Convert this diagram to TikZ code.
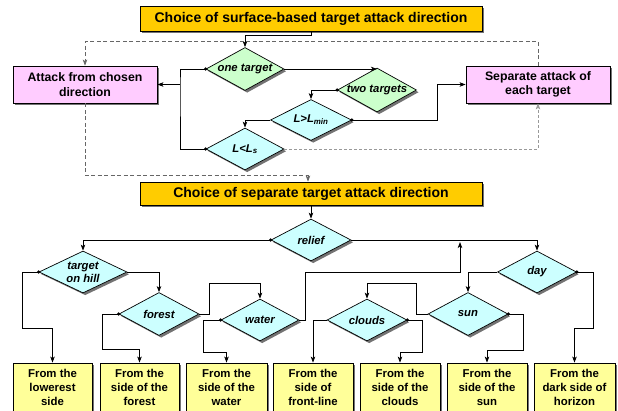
\documentclass[tikz,border=0pt]{standalone}
\usepackage{fontspec}
\setmainfont{Liberation Sans}
\usetikzlibrary{shapes.geometric,arrows.meta,shadows,calc}
\definecolor{torange}{HTML}{FFCC00}
\definecolor{tpink}{HTML}{FFCCFF}
\definecolor{tgreen}{HTML}{CCFFCC}
\definecolor{tcyan}{HTML}{CCFFFF}
\definecolor{tyellow}{HTML}{FFFF99}
\begin{document}
\begin{tikzpicture}[x=1pt,y=-1pt,
  shd/.style={drop shadow={shadow xshift=2.2pt,shadow yshift=-2.2pt,fill=black!55,opacity=1}},
  tbox/.style={draw,line width=0.8pt,fill=torange,minimum width=342pt,minimum height=25pt,inner sep=0pt,
    font=\fontsize{14}{16}\selectfont\bfseries,shd},
  pbox/.style={draw,line width=0.8pt,fill=tpink,minimum width=144pt,minimum height=37pt,inner sep=0pt,align=center,
    font=\fontsize{12.3}{14.5}\selectfont\bfseries,shd},
  ybox/.style={draw,line width=0.8pt,fill=tyellow,minimum width=80pt,minimum height=48pt,inner sep=0pt,align=center,
    font=\fontsize{11.4}{14}\selectfont\bfseries,shd},
  dia/.style={diamond,draw,line width=0.7pt,inner sep=0pt,minimum width=80pt,minimum height=42pt,shd},
  dtext/.style={font=\fontsize{11.3}{13}\selectfont\bfseries\itshape,align=center},
  tip/.style={-{Stealth[length=6pt,width=4.5pt,inset=1.5pt]}},
  ln/.style={draw,line width=0.8pt},
  conn/.style={ln,tip},
  dashd/.style={draw=black!60,line width=0.7pt,dash pattern=on 4pt off 2.5pt,tip},
  dashl/.style={draw=black!40,line width=0.6pt,dash pattern=on 3pt off 2pt,tip},
  dot/.style={fill=black}
]
\useasboundingbox (0,0) rectangle (618,410);

% titles and result boxes
\node[tbox] (title1) at (311,18.5) {Choice of surface-based target attack direction};
\node[tbox,minimum height=23pt] (title2) at (311,193.5) {Choice of separate target attack direction};
\node[pbox] (atk) at (85,84.5) {Attack from chosen\\direction};
\node[pbox] (sep) at (538,84.5) {Separate attack of\\each target};

% upper diamonds
\node[dia,fill=tgreen,minimum width=78pt,minimum height=43pt,label={[dtext,name=one-t]center:one target}] (one) at (245,69) {};
\node[dia,fill=tgreen,minimum width=79pt,minimum height=44pt,label={[dtext,name=two-t]center:two targets}] (two) at (377,90) {};
\node[dia,fill=tcyan,minimum width=81pt,minimum height=41pt,label={[dtext,name=lmin-t]center:L>L\textsubscript{min}}] (lmin) at (311,120) {};
\node[dia,fill=tcyan,minimum width=78pt,minimum height=42pt,label={[dtext,name=ls-t]center:L<L\textsubscript{s}}] (ls) at (245,149) {};

% lower diamonds
\node[dia,fill=tcyan,label={[dtext,name=relief-t]center:relief}] (relief) at (311,240) {};
\node[dia,fill=tcyan,minimum width=88pt,label={[dtext,name=hill-t]center:target\\on hill}] (hill) at (83,272) {};
\node[dia,fill=tcyan,minimum width=79pt,label={[dtext,name=day-t]center:day}] (day) at (537,272) {};
\node[dia,fill=tcyan,minimum height=43pt,label={[dtext,name=forest-t]center:forest}] (forest) at (159,314) {};
\node[dia,fill=tcyan,minimum width=78pt,label={[dtext,name=water-t]center:water}] (water) at (260,320) {};
\node[dia,fill=tcyan,label={[dtext,name=clouds-t]center:clouds}] (clouds) at (367,320) {};
\node[dia,fill=tcyan,minimum height=43pt,label={[dtext,name=sun-t]center:sun}] (sun) at (468,314) {};

% bottom boxes
\node[ybox,minimum width=79pt] (b1) at (52.5,387) {From the\\lowerest\\side};
\node[ybox,minimum width=79pt] (b2) at (139.5,387) {From the\\side of the\\forest};
\node[ybox,minimum width=81pt] (b3) at (226.5,387) {From the\\side of the\\water};
\node[ybox] (b4) at (313,387) {From the\\side of\\front-line};
\node[ybox] (b5) at (400,387) {From the\\side of the\\clouds};
\node[ybox] (b6) at (487,387) {From the\\side of the\\sun};
\node[ybox,minimum width=81pt] (b7) at (574.5,387) {From the\\dark side of\\horizon};

% upper connectors
\draw[conn] (title1.south) -- ++(0,4) -| (one.north);
\draw[dashd] (sep.north) -- ++(0,-24) -| (atk.north);
\coordinate (busL) at (180,84.5);
\draw[ln] (one.west) -| (busL) |- (ls.west);
\draw[conn] (busL) -- (atk.east);
\draw[conn] (one.east) -- (one.east -| two.north);
\draw[conn] (two.west) -| (lmin.north);
\draw[conn] (lmin.east) -- ++(86,0) |- (sep.west);
\draw[conn] (lmin.west) -| (ls.north);
\draw[dashl] (ls.east) -| (sep.south);
\draw[dashd] (atk.south) -- ++(0,72) -| ($(title2.north)+(-3,0)$);

% lower connectors
\draw[conn] (title2.south) -- (relief.north);
\draw[conn] (relief.west) -| (hill.north);
\draw[conn] (relief.east) -| (day.north);
\draw[conn] (hill.west) -- ++(-16,0) -- ++(0,56) -| (b1.north);
\draw[conn] (hill.east) -| (forest.north);
\draw[conn] (forest.west) -- ++(-16,0) -- ++(0,35) -| (b2.north);
\draw[conn] (forest.east) -- ++(10,0) -- ++(0,-31) -| (water.north);
\draw[conn] (water.west) -- ++(-17,0) -- ++(0,32) -| (b3.north);
\coordinate (wj) at (460,242);
\draw[conn] (water.east) -- ++(6,0) -- ++(0,-48) -| (wj);
\draw[conn] (sun.west) -- ++(-11,0) -- ++(0,-31) -| (clouds.north);
\draw[conn] (clouds.west) -| (b4.north);
\draw[conn] (clouds.east) -- ++(15,0) -- ++(0,32) -| (b5.north);
\draw[conn] (day.west) -| (sun.north);
\draw[conn] (sun.east) -- ++(15,0) -- ++(0,36) -| (b6.north);
\draw[conn] (day.east) -- ++(16.5,0) -- ++(0,56) -| (b7.north);

% junction dots
\foreach \p in {one.west,two.west,lmin.east,ls.west,relief.west,hill.west,forest.west,water.west,clouds.east,sun.east,day.east}
  \fill[dot] (\p) circle (1.8pt);
\end{tikzpicture}
\end{document}
